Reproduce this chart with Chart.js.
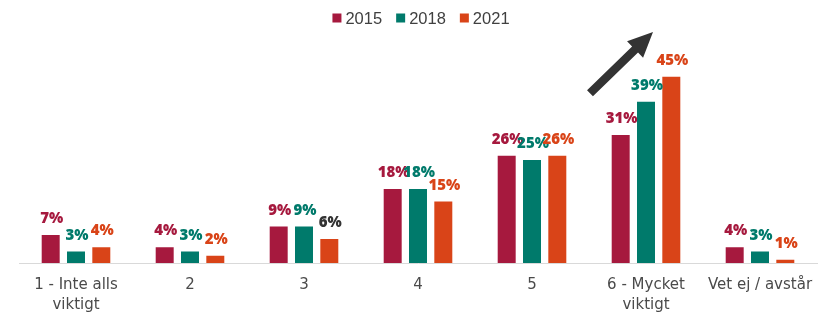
<!DOCTYPE html>
<html>
<head>
<meta charset="utf-8">
<script src="https://cdn.jsdelivr.net/npm/chart.js@4.4.1/dist/chart.umd.min.js"></script>
<style>
  html, body { margin: 0; padding: 0; background: #ffffff; }
  #wrap { width: 835px; height: 321px; }
</style>
</head>
<body>
<div id="wrap"><canvas id="chart" width="835" height="321"></canvas></div>
<script>
// Survey answers per year, percent of respondents
const categories = [["1 - Inte alls", "viktigt"], "2", "3", "4", "5", ["6 - Mycket", "viktigt"], "Vet ej / avstår"];
const years = ["2015", "2018", "2021"];
const values2015 = [7, 4, 9, 18, 26, 31, 4];
const values2018 = [3, 3, 9, 18, 25, 39, 3];
const values2021 = [4, 2, 6, 15, 26, 45, 1];
const yMax = 50;

const seriesColors = ["#A6193E", "#007A6B", "#D94418"];
// value labels use the series colour, with one dark exception
const labelColorExceptions = { "2-2": "#333333" };

const allValues = [values2015, values2018, values2021];

// value labels above each bar
const valueLabels = {
  id: "valueLabels",
  afterDatasetsDraw(chart) {
    const ctx = chart.ctx;
    ctx.save();
    ctx.font = "800 15px 'Open Sans'";
    ctx.textAlign = "center";
    ctx.textBaseline = "alphabetic";
    chart.data.datasets.forEach((ds, di) => {
      const meta = chart.getDatasetMeta(di);
      meta.data.forEach((bar, i) => {
        ctx.fillStyle = labelColorExceptions[di + "-" + i] || seriesColors[di];
        ctx.fillText(ds.data[i] + "%", bar.x + 1, bar.y - 11);
      });
    });
    ctx.restore();
  }
};

// legend row centred above the plot
const topLegend = {
  id: "topLegend",
  afterDraw(chart) {
    const ctx = chart.ctx;
    const area = chart.chartArea;
    ctx.save();
    ctx.font = "16.5px 'Liberation Sans'";
    ctx.textBaseline = "middle";
    const box = 9, gap = 4, spacing = 14;
    const widths = years.map(y => box + gap + ctx.measureText(y).width);
    const total = widths.reduce((a, b) => a + b, 0) + spacing * (years.length - 1);
    let x = (area.left + area.right) / 2 - total / 2 + 3;
    const y = 18;
    years.forEach((label, i) => {
      ctx.fillStyle = seriesColors[i];
      ctx.fillRect(x, y - box / 2, box, box);
      ctx.fillStyle = "#404040";
      ctx.fillText(label, x + box + gap, y + 1);
      x += widths[i] + spacing;
    });
    ctx.restore();
  }
};

// rising-trend arrow next to the "6 - Mycket viktigt" group
const trendArrow = {
  id: "trendArrow",
  afterDraw(chart) {
    const xs = chart.scales.x, ys = chart.scales.y;
    const cx = xs.getPixelForValue(5);
    const x0 = cx - 56, y0 = ys.getPixelForValue(40.8);
    const x1 = cx + 7, y1 = ys.getPixelForValue(55.5);
    const ang = Math.atan2(y1 - y0, x1 - x0);
    const len = Math.hypot(x1 - x0, y1 - y0);
    const shaft = 8.5, headLen = 25, headW = 21;
    const ctx = chart.ctx;
    ctx.save();
    ctx.translate(x0, y0);
    ctx.rotate(ang);
    ctx.fillStyle = "#333333";
    ctx.beginPath();
    ctx.moveTo(0, -shaft / 2);
    ctx.lineTo(len - headLen, -shaft / 2);
    ctx.lineTo(len - headLen, -headW / 2 - 1);
    ctx.lineTo(len, 0);
    ctx.lineTo(len - headLen, headW / 2 + 1);
    ctx.lineTo(len - headLen, shaft / 2);
    ctx.lineTo(0, shaft / 2);
    ctx.closePath();
    ctx.fill();
    ctx.restore();
  }
};

new Chart(document.getElementById("chart"), {
  type: "bar",
  data: {
    labels: categories,
    datasets: years.map((y, i) => ({
      label: y,
      data: allValues[i],
      backgroundColor: seriesColors[i],
      borderColor: "rgba(255,255,255,0.45)",
      borderWidth: 1,
      categoryPercentage: 0.666,
      barPercentage: 0.79
    }))
  },
  options: {
    responsive: false,
    devicePixelRatio: 1,
    animation: false,
    layout: { padding: { top: 55, left: 19, right: 18, bottom: 6 } },
    plugins: {
      legend: { display: false },
      tooltip: { enabled: false }
    },
    scales: {
      x: {
        grid: { display: false, drawTicks: false, tickLength: 0 },
        border: { display: true, color: "#d9d9d9", width: 1 },
        ticks: {
          color: "#4a4a4a",
          padding: 12,
          maxRotation: 0,
          autoSkip: false,
          font: { family: "'DejaVu Sans'", size: 15, lineHeight: "20px" }
        },
        afterFit(scale) { scale.height = 52; }
      },
      y: { display: false, min: 0, max: yMax }
    }
  },
  plugins: [valueLabels, topLegend, trendArrow]
});
</script>
</body>
</html>
